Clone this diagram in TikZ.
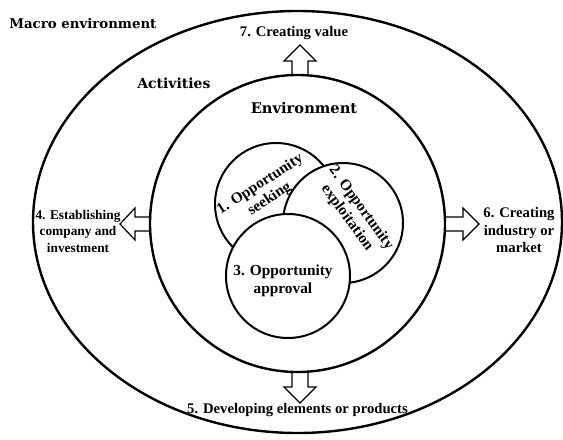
\documentclass[tikz,border=0pt]{standalone}
\usepackage{fontspec}
\setmainfont{Liberation Serif}
\newfontfamily\headfont{DejaVu Serif}
\usepackage{amsmath}
\usepackage{tikz}

\begin{document}
\begin{tikzpicture}[x=0.75pt,y=0.75pt,yscale=-1,xscale=1]
        \path[use as bounding box] (0,0) rectangle (563,439);

        %Shape: Ellipse [outer]
        \draw  [line width=1.8]  (297.5,222) ellipse (264.5 and 211) ;
        %Shape: Ellipse [inner]
        \draw  [line width=1.8]  (297.5,223.5) ellipse (147.5 and 148.5) ;

        %Shape: Circle [seeking]
        \draw  [fill=white][line width=1.5]  (276,204) circle [x radius= 61, y radius= 61]   ;
        %Shape: Circle [exploitation]
        \draw  [fill=white][line width=1.5]  (343,223) circle [x radius= 60, y radius= 60]   ;
        %Shape: Circle [approval]
        \draw  [fill=white][line width=1.5]  (288,276) circle [x radius= 62, y radius= 62]   ;

        %Up Arrow
        \draw  [line width=0.9]  (292,76) -- (292,61) -- (284,61) -- (300,45) -- (316,61) -- (308,61) -- (308,76) ;
        %Down Arrow
        \draw  [line width=0.9]  (292,372) -- (292,387) -- (284,387) -- (300,403) -- (316,387) -- (308,387) -- (308,372) ;
        %Left Arrow
        \draw  [line width=0.9]  (151,217) -- (135,217) -- (135,208) -- (120,224) -- (135,240) -- (135,231) -- (151,231) ;
        %Right Arrow
        \draw  [line width=0.9]  (444,217) -- (463,217) -- (463,208) -- (479,224) -- (463,240) -- (463,231) -- (444,231) ;

        % Text Node
        \draw (8,24) node (macro) [anchor=west][inner sep=0.75pt]  [font=\headfont\bfseries\fontsize{10}{12}\selectfont]  {Macro environment};
        % Text Node
        \draw (136,83) node (activ) [anchor=west][inner sep=0.75pt]  [font=\headfont\bfseries\fontsize{10.5}{12}\selectfont]  {Activities};
        % Text Node
        \draw (304,108) node (envir) [inner sep=0.75pt]  [font=\headfont\bfseries\fontsize{11}{12}\selectfont]  {Environment};
        % Text Node
        \draw (294,33) node (value) [inner sep=0.75pt]  [font=\bfseries\fontsize{11}{12.5}\selectfont]  {7. Creating value};
        % Text Node
        \draw (297.5,410) node (products) [inner sep=0.75pt]  [font=\bfseries\fontsize{11}{12.5}\selectfont]  {5. Developing elements or products};
        % Text Node
        \draw (78,231) node (company) [inner sep=0.75pt]  [font=\bfseries\fontsize{10}{12.4}\selectfont,align=center]  {4. Establishing\\company and\\investment};
        % Text Node
        \draw (519,230) node (industry) [inner sep=0.75pt]  [font=\bfseries\fontsize{11}{13}\selectfont,align=center]  {6. Creating\\industry or\\market};
        % Text Node
        \draw (265,192) node (seeking) [inner sep=0.75pt]  [font=\bfseries\fontsize{11.5}{13}\selectfont,align=center,rotate=33]  {1. Opportunity\\seeking};
        % Text Node
        \draw (354,213) node (exploit) [inner sep=0.75pt]  [font=\bfseries\fontsize{11.5}{13}\selectfont,align=center,rotate=-54]  {2. Opportunity\\exploitation};
        % Text Node
        \draw (283,281) node (approval) [inner sep=0.75pt]  [font=\bfseries\fontsize{11.5}{13.5}\selectfont,align=center]  {3. Opportunity\\approval};

\end{tikzpicture}
\end{document}
